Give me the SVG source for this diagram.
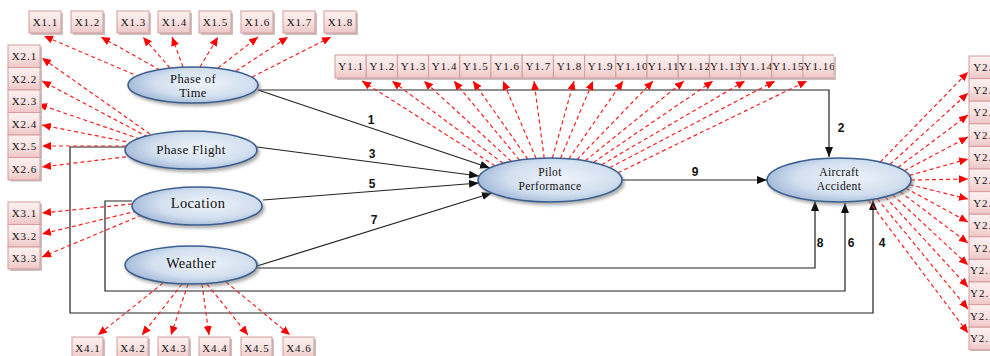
<svg xmlns="http://www.w3.org/2000/svg" width="990" height="356" viewBox="0 0 990 356">
<style>
.bx{fill:url(#boxg);stroke:#d49c9c;stroke-width:1}
.sh{fill:#c9c0c0}
.bt{font-family:"Liberation Serif",serif;font-size:11px;fill:#111;text-anchor:middle;letter-spacing:1px}
.el{fill:url(#elg);stroke:#3b5f8f;stroke-width:1.6;filter:url(#ds)}
.et{font-family:"Liberation Serif",serif;fill:#111;text-anchor:middle}
.rd{fill:none;stroke:#ff2020;stroke-width:1.2;stroke-dasharray:4 3;marker-end:url(#ra)}
.bk{fill:none;stroke:#222;stroke-width:1.2}
.ba{marker-end:url(#ba)}
.lb{font-family:"Liberation Sans",sans-serif;font-weight:bold;font-size:12px;fill:#111;text-anchor:middle}
</style>
<defs>
<linearGradient id="boxg" x1="0" y1="0" x2="0" y2="1">
<stop offset="0" stop-color="#fdf0f0"/>
<stop offset="0.5" stop-color="#f8e2e2"/>
<stop offset="1" stop-color="#efc6c6"/>
</linearGradient>
<radialGradient id="elg" cx="0.58" cy="0.45" r="0.62">
<stop offset="0" stop-color="#eef3fa"/>
<stop offset="0.6" stop-color="#d3e0f0"/>
<stop offset="1" stop-color="#9fb6d6"/>
</radialGradient>
<filter id="ds" x="-10%" y="-20%" width="125%" height="150%">
<feDropShadow dx="2" dy="2.5" stdDeviation="1.5" flood-color="#777" flood-opacity="0.6"/>
</filter>
<marker id="ra" viewBox="0 0 9 8" markerWidth="9" markerHeight="8" refX="9" refY="4" orient="auto" markerUnits="userSpaceOnUse">
<path d="M0,0 L9,4 L0,8 z" fill="#ff0000"/>
</marker>
<marker id="ba" viewBox="0 0 10 8" markerWidth="10" markerHeight="8" refX="10" refY="4" orient="auto" markerUnits="userSpaceOnUse">
<path d="M0,0 L10,4 L0,8 z" fill="#111"/>
</marker>
<clipPath id="clipY16"><rect x="803" y="50" width="31" height="35"/></clipPath>
</defs>
<rect width="990" height="356" fill="#fff"/>

<g id="connectors">
<path class="bk ba" d="M258,90 L490,168"/>
<path class="bk ba" d="M258,90 H829 V157"/>
<path class="bk ba" d="M257,147 L479,176"/>
<path class="bk ba" d="M263,200 L479,183"/>
<path class="bk ba" d="M257,266 L492,193"/>
<path class="bk ba" d="M622,180 H767"/>
<path class="bk ba" d="M257,268 H815 V201"/>
<path class="bk ba" d="M132,201 H105 V291 H845 V203"/>
<path class="bk ba" d="M125,147 H70 V313 H873 V200"/>
<path class="rd" d="M140,77 L44,36"/>
<path class="rd" d="M160,70 L101,37"/>
<path class="rd" d="M170,68 L143,37"/>
<path class="rd" d="M183,67 L172,37"/>
<path class="rd" d="M200,67 L218,37"/>
<path class="rd" d="M218,68 L258,37"/>
<path class="rd" d="M236,71 L288,37"/>
<path class="rd" d="M252,77 L331,37"/>
<path class="rd" d="M150,134 L42,58"/>
<path class="rd" d="M148,137 L42,81"/>
<path class="rd" d="M140,139 L38,104"/>
<path class="rd" d="M133,143 L42,125"/>
<path class="rd" d="M133,146 L42,146"/>
<path class="rd" d="M133,156 L42,167"/>
<path class="rd" d="M132,204 L42,213"/>
<path class="rd" d="M137,211 L42,234"/>
<path class="rd" d="M142,215 L42,257"/>
<path class="rd" d="M163,283 L98,335"/>
<path class="rd" d="M182,284 L142,335"/>
<path class="rd" d="M188,284 L171,335"/>
<path class="rd" d="M202,284 L209,335"/>
<path class="rd" d="M207,284 L248,335"/>
<path class="rd" d="M226,282 L290,335"/>
<path class="rd" d="M495,165.8 L362,81"/>
<path class="rd" d="M503.2,163.3 L392,81"/>
<path class="rd" d="M511.4,161.4 L424,81"/>
<path class="rd" d="M519.6,160.1 L454,81"/>
<path class="rd" d="M527.8,159.1 L473,81"/>
<path class="rd" d="M536,158.4 L503,81"/>
<path class="rd" d="M544.2,158.1 L534,81"/>
<path class="rd" d="M552.4,158 L574,81"/>
<path class="rd" d="M560.6,158.2 L593,81"/>
<path class="rd" d="M568.8,158.8 L623,81"/>
<path class="rd" d="M577,159.6 L653,81"/>
<path class="rd" d="M585.2,160.8 L684,81"/>
<path class="rd" d="M593.4,162.4 L713,81"/>
<path class="rd" d="M601.6,164.7 L745,81"/>
<path class="rd" d="M609.8,167.7 L775,81"/>
<path class="rd" d="M618,172.8 L807,81"/>
<path class="rd" d="M880.3,162 L968,72"/>
<path class="rd" d="M889.9,164.4 L968,93"/>
<path class="rd" d="M898,167.4 L968,115"/>
<path class="rd" d="M904.3,170.7 L968,137"/>
<path class="rd" d="M909.4,175.4 L968,159"/>
<path class="rd" d="M911,180 L968,179"/>
<path class="rd" d="M909.4,184.6 L968,199"/>
<path class="rd" d="M905.8,188.2 L968,222"/>
<path class="rd" d="M900.1,191.7 L968,243"/>
<path class="rd" d="M892.5,194.7 L968,265"/>
<path class="rd" d="M885.3,196.9 L968,287"/>
<path class="rd" d="M877.2,198.7 L968,309"/>
<path class="rd" d="M868.3,200.1 L968,333"/>
<text class="lb" x="371" y="124">1</text>
<text class="lb" x="841" y="132">2</text>
<text class="lb" x="372" y="158">3</text>
<text class="lb" x="372" y="188">5</text>
<text class="lb" x="374" y="224">7</text>
<text class="lb" x="695" y="176">9</text>
<text class="lb" x="820" y="247">8</text>
<text class="lb" x="851" y="247">6</text>
<text class="lb" x="882" y="247">4</text>
</g>

<g id="phase_of_time"><ellipse class="el" cx="193" cy="85" rx="65" ry="18"/><text class="et" x="193" y="83" font-size="12.5" letter-spacing="0.4">Phase of</text><text class="et" x="193" y="97" font-size="12.5" letter-spacing="0.4">Time</text></g>
<g id="phase_flight"><ellipse class="el" cx="191" cy="150" rx="66" ry="19"/><text class="et" x="191" y="154" font-size="13" letter-spacing="0.4">Phase Flight</text></g>
<g id="location"><ellipse class="el" cx="197" cy="206" rx="65" ry="19"/><text class="et" x="198" y="208" font-size="14.5" letter-spacing="0.4">Location</text></g>
<g id="weather"><ellipse class="el" cx="191" cy="265" rx="66" ry="19"/><text class="et" x="191" y="268" font-size="14.5" letter-spacing="0.3">Weather</text></g>
<g id="pilot_performance"><ellipse class="el" cx="550" cy="180" rx="72" ry="22"/><text class="et" x="550" y="176" font-size="11.5" letter-spacing="0.4">Pilot</text><text class="et" x="550" y="190" font-size="11.5" letter-spacing="0.4">Performance</text></g>
<g id="aircraft_accident"><ellipse class="el" cx="839" cy="180" rx="72" ry="22"/><text class="et" x="839" y="176" font-size="11.5" letter-spacing="0.4">Aircraft</text><text class="et" x="839" y="190" font-size="11.5" letter-spacing="0.4">Accident</text></g>

<g id="X1_1"><rect class="sh" x="31" y="13" width="32" height="22"/><rect class="bx" x="29" y="11" width="32" height="22"/><text class="bt" x="45.5" y="26">X1.1</text></g>
<g id="X1_2"><rect class="sh" x="73" y="13" width="32" height="22"/><rect class="bx" x="71" y="11" width="32" height="22"/><text class="bt" x="87.5" y="26">X1.2</text></g>
<g id="X1_3"><rect class="sh" x="119" y="13" width="32" height="22"/><rect class="bx" x="117" y="11" width="32" height="22"/><text class="bt" x="133.5" y="26">X1.3</text></g>
<g id="X1_4"><rect class="sh" x="160" y="13" width="32" height="22"/><rect class="bx" x="158" y="11" width="32" height="22"/><text class="bt" x="174.5" y="26">X1.4</text></g>
<g id="X1_5"><rect class="sh" x="201" y="13" width="32" height="22"/><rect class="bx" x="199" y="11" width="32" height="22"/><text class="bt" x="215.5" y="26">X1.5</text></g>
<g id="X1_6"><rect class="sh" x="243" y="13" width="32" height="22"/><rect class="bx" x="241" y="11" width="32" height="22"/><text class="bt" x="257.5" y="26">X1.6</text></g>
<g id="X1_7"><rect class="sh" x="285" y="13" width="32" height="22"/><rect class="bx" x="283" y="11" width="32" height="22"/><text class="bt" x="299.5" y="26">X1.7</text></g>
<g id="X1_8"><rect class="sh" x="326" y="13" width="32" height="22"/><rect class="bx" x="324" y="11" width="32" height="22"/><text class="bt" x="340.5" y="26">X1.8</text></g>

<g id="X2_1"><rect class="sh" x="10" y="47" width="32" height="22"/><rect class="bx" x="8" y="45" width="32" height="22.5"/><text class="bt" x="24.5" y="60">X2.1</text></g>
<g id="X2_2"><rect class="sh" x="10" y="69.5" width="32" height="22"/><rect class="bx" x="8" y="67.5" width="32" height="22.5"/><text class="bt" x="24.5" y="82.5">X2.2</text></g>
<g id="X2_3"><rect class="sh" x="10" y="92" width="32" height="22"/><rect class="bx" x="8" y="90" width="32" height="22.5"/><text class="bt" x="24.5" y="105">X2.3</text></g>
<g id="X2_4"><rect class="sh" x="10" y="114.5" width="32" height="22"/><rect class="bx" x="8" y="112.5" width="32" height="22.5"/><text class="bt" x="24.5" y="127.5">X2.4</text></g>
<g id="X2_5"><rect class="sh" x="10" y="137" width="32" height="22"/><rect class="bx" x="8" y="135" width="32" height="22.5"/><text class="bt" x="24.5" y="150">X2.5</text></g>
<g id="X2_6"><rect class="sh" x="10" y="159.5" width="32" height="22"/><rect class="bx" x="8" y="157.5" width="32" height="22.5"/><text class="bt" x="24.5" y="172.5">X2.6</text></g>

<g id="X3_1"><rect class="sh" x="10" y="204" width="32" height="22"/><rect class="bx" x="8" y="202" width="32" height="22.5"/><text class="bt" x="24.5" y="217">X3.1</text></g>
<g id="X3_2"><rect class="sh" x="10" y="226.5" width="32" height="22"/><rect class="bx" x="8" y="224.5" width="32" height="22.5"/><text class="bt" x="24.5" y="239.5">X3.2</text></g>
<g id="X3_3"><rect class="sh" x="10" y="249" width="32" height="22"/><rect class="bx" x="8" y="247" width="32" height="22"/><text class="bt" x="24.5" y="262">X3.3</text></g>

<g id="X4_1"><rect class="sh" x="74" y="339" width="31" height="22"/><rect class="bx" x="72" y="337" width="31" height="22"/><text class="bt" x="88" y="352">X4.1</text></g>
<g id="X4_2"><rect class="sh" x="119" y="339" width="31" height="22"/><rect class="bx" x="117" y="337" width="31" height="22"/><text class="bt" x="133" y="352">X4.2</text></g>
<g id="X4_3"><rect class="sh" x="160" y="339" width="31" height="22"/><rect class="bx" x="158" y="337" width="31" height="22"/><text class="bt" x="174" y="352">X4.3</text></g>
<g id="X4_4"><rect class="sh" x="201" y="339" width="31" height="22"/><rect class="bx" x="199" y="337" width="31" height="22"/><text class="bt" x="215" y="352">X4.4</text></g>
<g id="X4_5"><rect class="sh" x="243" y="339" width="31" height="22"/><rect class="bx" x="241" y="337" width="31" height="22"/><text class="bt" x="257" y="352">X4.5</text></g>
<g id="X4_6"><rect class="sh" x="285" y="339" width="31" height="22"/><rect class="bx" x="283" y="337" width="31" height="22"/><text class="bt" x="299" y="352">X4.6</text></g>

<rect class="sh" x="337" y="57" width="499" height="23"/>
<g id="Y1_1"><rect class="bx" x="335" y="55" width="31.2" height="23"/><text class="bt" x="351.1" y="70">Y1.1</text></g>
<g id="Y1_2"><rect class="bx" x="366.2" y="55" width="31.2" height="23"/><text class="bt" x="382.3" y="70">Y1.2</text></g>
<g id="Y1_3"><rect class="bx" x="397.4" y="55" width="31.2" height="23"/><text class="bt" x="413.5" y="70">Y1.3</text></g>
<g id="Y1_4"><rect class="bx" x="428.6" y="55" width="31.2" height="23"/><text class="bt" x="444.7" y="70">Y1.4</text></g>
<g id="Y1_5"><rect class="bx" x="459.8" y="55" width="31.2" height="23"/><text class="bt" x="475.9" y="70">Y1.5</text></g>
<g id="Y1_6"><rect class="bx" x="491" y="55" width="31.2" height="23"/><text class="bt" x="507.1" y="70">Y1.6</text></g>
<g id="Y1_7"><rect class="bx" x="522.2" y="55" width="31.2" height="23"/><text class="bt" x="538.3" y="70">Y1.7</text></g>
<g id="Y1_8"><rect class="bx" x="553.4" y="55" width="31.2" height="23"/><text class="bt" x="569.5" y="70">Y1.8</text></g>
<g id="Y1_9"><rect class="bx" x="584.6" y="55" width="31.2" height="23"/><text class="bt" x="600.7" y="70">Y1.9</text></g>
<g id="Y1_10"><rect class="bx" x="615.8" y="55" width="31.2" height="23"/><text class="bt" x="632.4" y="70">Y1.10</text></g>
<g id="Y1_11"><rect class="bx" x="647" y="55" width="31.2" height="23"/><text class="bt" x="663.6" y="70">Y1.11</text></g>
<g id="Y1_12"><rect class="bx" x="678.2" y="55" width="31.2" height="23"/><text class="bt" x="694.8" y="70">Y1.12</text></g>
<g id="Y1_13"><rect class="bx" x="709.4" y="55" width="31.2" height="23"/><text class="bt" x="726" y="70">Y1.13</text></g>
<g id="Y1_14"><rect class="bx" x="740.6" y="55" width="31.2" height="23"/><text class="bt" x="757.2" y="70">Y1.14</text></g>
<g id="Y1_15"><rect class="bx" x="771.8" y="55" width="31.2" height="23"/><text class="bt" x="788.4" y="70">Y1.15</text></g>
<g id="Y1_16" clip-path="url(#clipY16)"><rect class="bx" x="803" y="55" width="31.2" height="23"/><text class="bt" x="819.6" y="70">Y1.16</text></g>

<rect class="sh" x="971" y="58" width="32" height="293"/>
<g id="Y2_1"><rect class="bx" x="969" y="56" width="32" height="22.6"/><text class="bt" x="986" y="71">Y2.1</text></g>
<g id="Y2_2"><rect class="bx" x="969" y="78.6" width="32" height="22.6"/><text class="bt" x="986" y="93.6">Y2.2</text></g>
<g id="Y2_3"><rect class="bx" x="969" y="101.2" width="32" height="22.6"/><text class="bt" x="986" y="116.2">Y2.3</text></g>
<g id="Y2_4"><rect class="bx" x="969" y="123.8" width="32" height="22.6"/><text class="bt" x="986" y="138.8">Y2.4</text></g>
<g id="Y2_5"><rect class="bx" x="969" y="146.4" width="32" height="22.6"/><text class="bt" x="986" y="161.4">Y2.5</text></g>
<g id="Y2_6"><rect class="bx" x="969" y="169" width="32" height="22.6"/><text class="bt" x="986" y="184">Y2.6</text></g>
<g id="Y2_7"><rect class="bx" x="969" y="191.6" width="32" height="22.6"/><text class="bt" x="986" y="206.6">Y2.7</text></g>
<g id="Y2_8"><rect class="bx" x="969" y="214.2" width="32" height="22.6"/><text class="bt" x="986" y="229.2">Y2.8</text></g>
<g id="Y2_9"><rect class="bx" x="969" y="236.8" width="32" height="22.6"/><text class="bt" x="986" y="251.8">Y2.9</text></g>
<g id="Y2_10"><rect class="bx" x="969" y="259.4" width="32" height="22.6"/><text class="bt" x="986" y="274.4">Y2.10</text></g>
<g id="Y2_11"><rect class="bx" x="969" y="282" width="32" height="22.6"/><text class="bt" x="986" y="297">Y2.11</text></g>
<g id="Y2_12"><rect class="bx" x="969" y="304.6" width="32" height="22.6"/><text class="bt" x="986" y="319.6">Y2.12</text></g>
<g id="Y2_13"><rect class="bx" x="969" y="327.2" width="32" height="22.6"/><text class="bt" x="986" y="342.2">Y2.13</text></g>
</svg>
